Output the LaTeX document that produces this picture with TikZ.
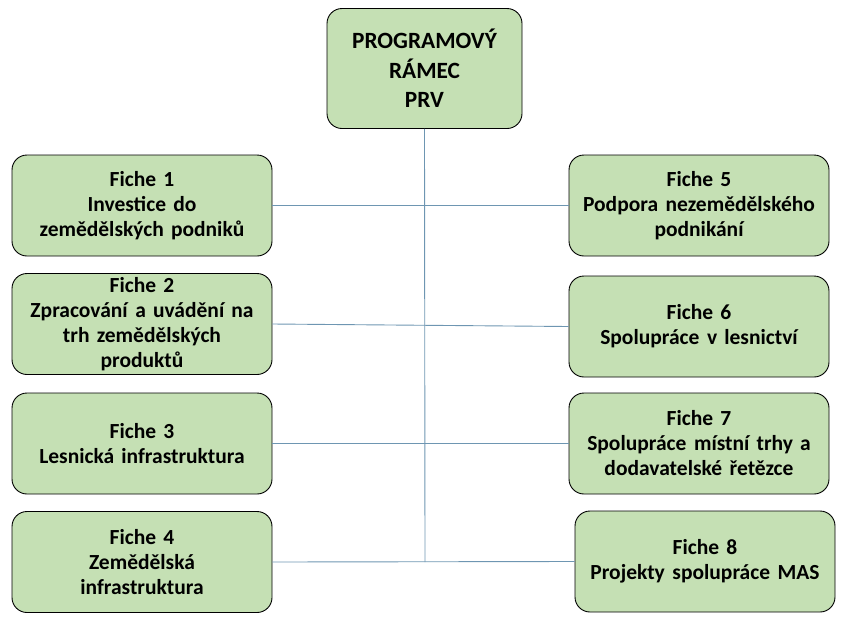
\documentclass[tikz,border=0pt]{standalone}
\usepackage{fontspec}
\setmainfont{Carlito}
\definecolor{boxfill}{RGB}{197,224,180}
\definecolor{linkcol}{RGB}{110,150,178}
\newcommand{\xsp}{\hspace{0.35em}}
\begin{document}
\begin{tikzpicture}[x=1pt,y=-1pt,
  fiche/.style={draw=black, line width=0.9pt, fill=boxfill, rounded corners=15pt,
    minimum width=260pt, minimum height=101pt, inner sep=0pt, text width=255pt, align=center,
    font=\bfseries\fontsize{21.5}{25}\selectfont},
  topbox/.style={fiche, minimum width=195pt, minimum height=120pt, text width=190pt,
    font=\bfseries\fontsize{23.3}{29.5}\selectfont},
  link/.style={draw=linkcol, line width=0.9pt}]
\useasboundingbox (0,0) rectangle (844,619);
\node[topbox] (top) at (424.5,68.5) {PROGRAMOVÝ\\RÁMEC\\PRV};
\node[fiche] (f1) at (142,205.5) {Fiche 1\\Investice do\\zemědělských podniků};
\node[fiche] (f2) at (142,324) {Fiche 2\\Zpracování\xsp a uvádění na\\trh zemědělských\\produktů};
\node[fiche] (f3) at (142,443.5) {Fiche 3\\Lesnická infrastruktura};
\node[fiche] (f4) at (142,562) {Fiche 4\\Zemědělská\\infrastruktura};
\node[fiche] (f5) at (699,205.5) {Fiche 5\\Podpora\xsp nezemědělského\\podnikání};
\node[fiche] (f6) at (699,326.5) {Fiche 6\\Spolupráce\xsp v lesnictví};
\node[fiche] (f7) at (699,443.5) {Fiche 7\\Spolupráce\xsp místní trhy a\\dodavatelské\xsp řetězce};
\node[fiche] (f8) at (705,561.5) {Fiche 8\\Projekty\xsp spolupráce\xsp MAS};
\coordinate (bottom) at (425,562);
\draw[link] (top.south) -- (bottom);
\draw[link] (f1.east) -- (f5.west);
\draw[link] (f2.east) -- (f6.west);
\draw[link] (f3.east) -- (f7.west);
\draw[link] (f4.east) -- (f8.west);
\end{tikzpicture}
\end{document}
